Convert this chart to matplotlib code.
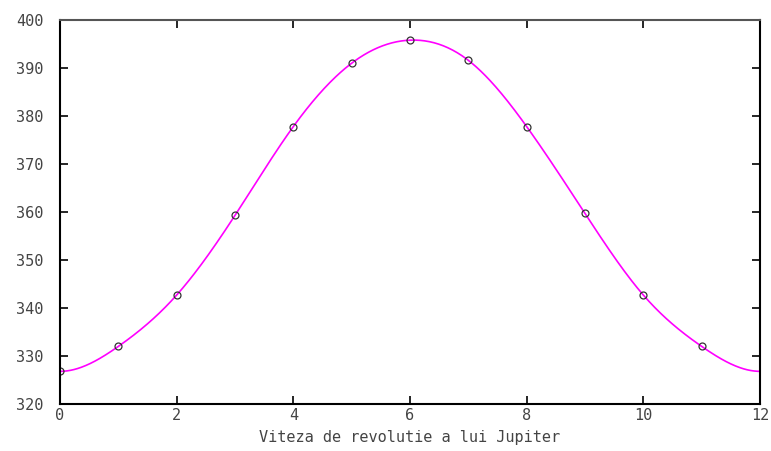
import numpy as np
import matplotlib
matplotlib.use("Agg")
import matplotlib.pyplot as plt

# values
months = [0, 1, 2, 3, 4, 5, 6, 7, 8, 9, 10, 11]
speed = [326.8, 332.0, 342.7, 359.3, 377.8, 391.0, 395.8, 391.6, 377.8, 359.7, 342.7, 332.0]
x_ticks = [0, 2, 4, 6, 8, 10, 12]
y_ticks = [320, 330, 340, 350, 360, 370, 380, 390, 400]
x_label = "Viteza de revolutie a lui Jupiter"


def periodic_spline(xs, ys, period, xnew):
    """Periodic cubic spline through equally spaced points (step 1)."""
    n = len(ys)
    ys = np.asarray(ys, dtype=float)
    A = np.zeros((n, n))
    rhs = np.zeros(n)
    for i in range(n):
        A[i, i] = 4.0
        A[i, (i - 1) % n] = 1.0
        A[i, (i + 1) % n] = 1.0
        rhs[i] = 6.0 * (ys[(i + 1) % n] - 2 * ys[i] + ys[(i - 1) % n])
    M = np.linalg.solve(A, rhs)
    out = []
    for t in xnew:
        t = t % period
        i = int(np.floor(t)) % n
        j = (i + 1) % n
        u = t - np.floor(t)
        val = (M[i] * (1 - u) ** 3 / 6 + M[j] * u ** 3 / 6
               + (ys[i] - M[i] / 6) * (1 - u) + (ys[j] - M[j] / 6) * u)
        out.append(val)
    return np.array(out)


xs_fine = np.linspace(0, 12, 600)
ys_fine = periodic_spline(months, speed, 12, xs_fine)

fig = plt.figure(figsize=(7.71, 4.51), dpi=100)
ax = fig.add_axes([60 / 771, 1 - 404 / 451, 700 / 771, 384 / 451])

ax.plot(xs_fine, ys_fine, color="#ff00ff", linewidth=1.2)
ax.plot(months, speed, linestyle="none", marker="o", markersize=5,
        markerfacecolor="none", markeredgecolor="#333333", markeredgewidth=0.9)

ax.set_xlim(0, 12)
ax.set_ylim(320, 400)
ax.set_xticks(x_ticks)
ax.set_yticks(y_ticks)

font = {"family": "DejaVu Sans Mono", "size": 11, "color": "#444444"}
ax.set_xticklabels([str(t) for t in x_ticks], fontdict=font)
ax.set_yticklabels([str(t) for t in y_ticks], fontdict=font)
ax.tick_params(direction="in", length=6, width=1.2, top=True, right=True,
               colors="black", labelcolor="#444444")
ax.tick_params(axis="y", pad=12)
ax.tick_params(axis="x", pad=3)

for side in ["left", "bottom", "right"]:
    ax.spines[side].set_linewidth(1.5)
    ax.spines[side].set_color("black")
ax.spines["top"].set_linewidth(1.5)
ax.spines["top"].set_color("#555555")

ax.set_xlabel(x_label, fontdict={"family": "DejaVu Sans Mono", "size": 11,
                                 "color": "#444444"})
ax.xaxis.set_label_coords(0.5, -26 / 384)

fig.savefig("out.png", dpi=100)
